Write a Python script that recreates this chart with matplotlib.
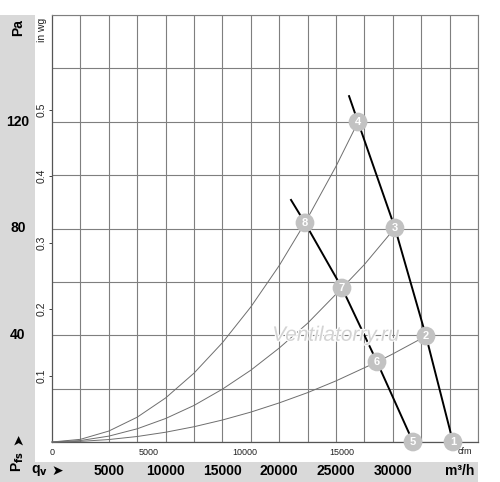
import matplotlib
matplotlib.use("Agg")
import matplotlib.pyplot as plt
from matplotlib.patches import Rectangle
import matplotlib.transforms as mtransforms
import matplotlib.patheffects as pe

plt.rcParams['font.family'] = ['Liberation Sans', 'DejaVu Sans']

# ---- data (m³/h, Pa) ----
fan_hi_q = [26150, 26940, 30190, 32920, 35300]
fan_hi_p = [129.6, 119.9, 80.2, 39.7, 0.0]
fan_lo_q = [21040, 22270, 25530, 28610, 31780]
fan_lo_p = [90.7, 82.1, 57.7, 30.0, 0.0]

sys_a_q = [0, 2500, 5000, 7500, 10000, 12500, 15000, 17500, 20000, 22270, 25000, 26940]
sys_a_p = [0, 1.0, 4.1, 9.3, 16.5, 25.8, 37.2, 50.6, 66.1, 82.1, 103.3, 119.9]
sys_b_q = [0, 2500, 5000, 7500, 10000, 12500, 15000, 17500, 20000, 22500, 25530, 27500, 30190]
sys_b_p = [0, 0.55, 2.2, 4.95, 8.8, 13.7, 19.8, 26.9, 35.2, 44.5, 57.7, 66.5, 80.2]
sys_c_q = [0, 2500, 5000, 7500, 10000, 12500, 15000, 17500, 20000, 22500, 25000, 28610, 30000, 32920]
sys_c_p = [0, 0.23, 0.92, 2.06, 3.66, 5.72, 8.24, 11.2, 14.65, 18.5, 22.9, 30.0, 33.0, 39.7]

point_labels = ['1', '2', '3', '4', '5', '6', '7', '8']
point_q = [35300, 32920, 30190, 26940, 31780, 28610, 25530, 22270]
point_p = [0.0, 39.7, 80.2, 119.9, 0.0, 30.0, 57.7, 82.1]

pa_labels = [40, 80, 120]
inwg_ticks = [0.1, 0.2, 0.3, 0.4, 0.5]
cfm_ticks = [0, 5000, 10000, 15000]
m3h_labels = [5000, 10000, 15000, 20000, 25000, 30000]

PA_PER_INWG = 249.089
M3H_PER_CFM = 1.699
XMAX = 37500
YMAX = 160

fig = plt.figure(figsize=(5.0, 4.82), dpi=100)
W, H = 500, 482
bg = '#d9d9d9'
fig.patches.append(Rectangle((0, 0), 35 / W, 467 / H, transform=fig.transFigure,
                             facecolor=bg, edgecolor='none', zorder=-5))
fig.patches.append(Rectangle((0, 0), 478 / W, 20 / H, transform=fig.transFigure,
                             facecolor=bg, edgecolor='none', zorder=-5))

ax = fig.add_axes([52 / W, 40 / H, 426 / W, 427 / H])
ax.set_zorder(2)
ax.set_xlim(0, XMAX)
ax.set_ylim(0, YMAX)
ax.set_facecolor('none')

# grid
gcol = '#7f7f7f'
ax.set_xticks(range(0, XMAX + 1, 2500), minor=True)
ax.set_yticks(range(0, YMAX + 1, 20), minor=True)
ax.grid(which='minor', color=gcol, linewidth=0.8)
ax.tick_params(which='minor', length=0)

# major ticks: cfm on x, in wg on y
ax.set_xticks([c * M3H_PER_CFM for c in cfm_ticks])
ax.set_xticklabels([str(c) for c in cfm_ticks], fontsize=6.5)
ax.tick_params(axis='x', which='major', length=0, pad=4, colors='#222222')
ax.set_yticks([v * PA_PER_INWG for v in inwg_ticks])
ax.set_yticklabels([str(v) for v in inwg_ticks], fontsize=7.5, rotation=90, va='center')
ax.tick_params(axis='y', which='major', length=2, width=0.6, pad=2, colors='#222222')

for s in ['top', 'right']:
    ax.spines[s].set_color(gcol)
    ax.spines[s].set_linewidth(0.8)
for s in ['left', 'bottom']:
    ax.spines[s].set_color('#555555')
    ax.spines[s].set_linewidth(0.9)

# system curves
for q, p in [(sys_a_q, sys_a_p), (sys_b_q, sys_b_p), (sys_c_q, sys_c_p)]:
    ax.plot(q, p, color='#6e6e6e', linewidth=0.7, zorder=3, clip_on=False)

# fan curves
ax.plot(fan_hi_q, fan_hi_p, color='black', linewidth=1.4, zorder=4, clip_on=False)
ax.plot(fan_lo_q, fan_lo_p, color='black', linewidth=1.4, zorder=4, clip_on=False)

# watermark
ax.text(25000, 40, 'Ventilatorry.ru', fontsize=15, style='italic', color='#d3d3d3',
        ha='center', va='center', zorder=5,
        path_effects=[pe.withStroke(linewidth=1.5, foreground='white')])

# numbered points
ax.scatter(point_q, point_p, s=13.5 ** 2, color='#c2c2c2', zorder=6, clip_on=False,
           edgecolors='none')
for lab, q, p in zip(point_labels, point_q, point_p):
    ax.text(q, p, lab, color='white', fontsize=8, fontweight='bold',
            ha='center', va='center', zorder=7)

# left strip labels
tr_fy = mtransforms.blended_transform_factory(fig.transFigure, ax.transData)
for v in pa_labels:
    ax.text(18 / W, v, str(v), transform=tr_fy, fontsize=10, fontweight='bold',
            ha='center', va='center')
fig.text(18 / W, 1 - 28 / H, 'Pa', fontsize=10, fontweight='bold', rotation=90,
         ha='center', va='center')
fig.text(42 / W, 1 - 30 / H, 'in wg', fontsize=7.5, rotation=90,
         ha='center', va='center', color='#222222')

# Pfs arrow label (rotated)
fig.text(18 / W, 1 - 462 / H, r'P$_{\mathbf{fs}}$', fontsize=10, fontweight='bold',
         rotation=90, ha='center', va='center')
fig.text(18 / W, 1 - 439 / H, '➤', fontsize=10, fontweight='bold',
         rotation=90, ha='center', va='center')

# bottom strip labels
tr_xf = mtransforms.blended_transform_factory(ax.transData, fig.transFigure)
for v in m3h_labels:
    ax.text(v, 1 - 471 / H, str(v), transform=tr_xf, fontsize=10, fontweight='bold',
            ha='center', va='center')
fig.text(39 / W, 1 - 471 / H, r'q$_{\mathbf{v}}$', fontsize=10, fontweight='bold',
         ha='center', va='center')
fig.text(57 / W, 1 - 471 / H, '➤', fontsize=10, fontweight='bold',
         ha='center', va='center')
fig.text(460 / W, 1 - 471 / H, 'm³/h', fontsize=10, fontweight='bold',
         ha='center', va='center')
fig.text(465 / W, 1 - 451 / H, 'cfm', fontsize=6.5, ha='center', va='center',
         color='#222222')

fig.savefig('out.png', dpi=100)
